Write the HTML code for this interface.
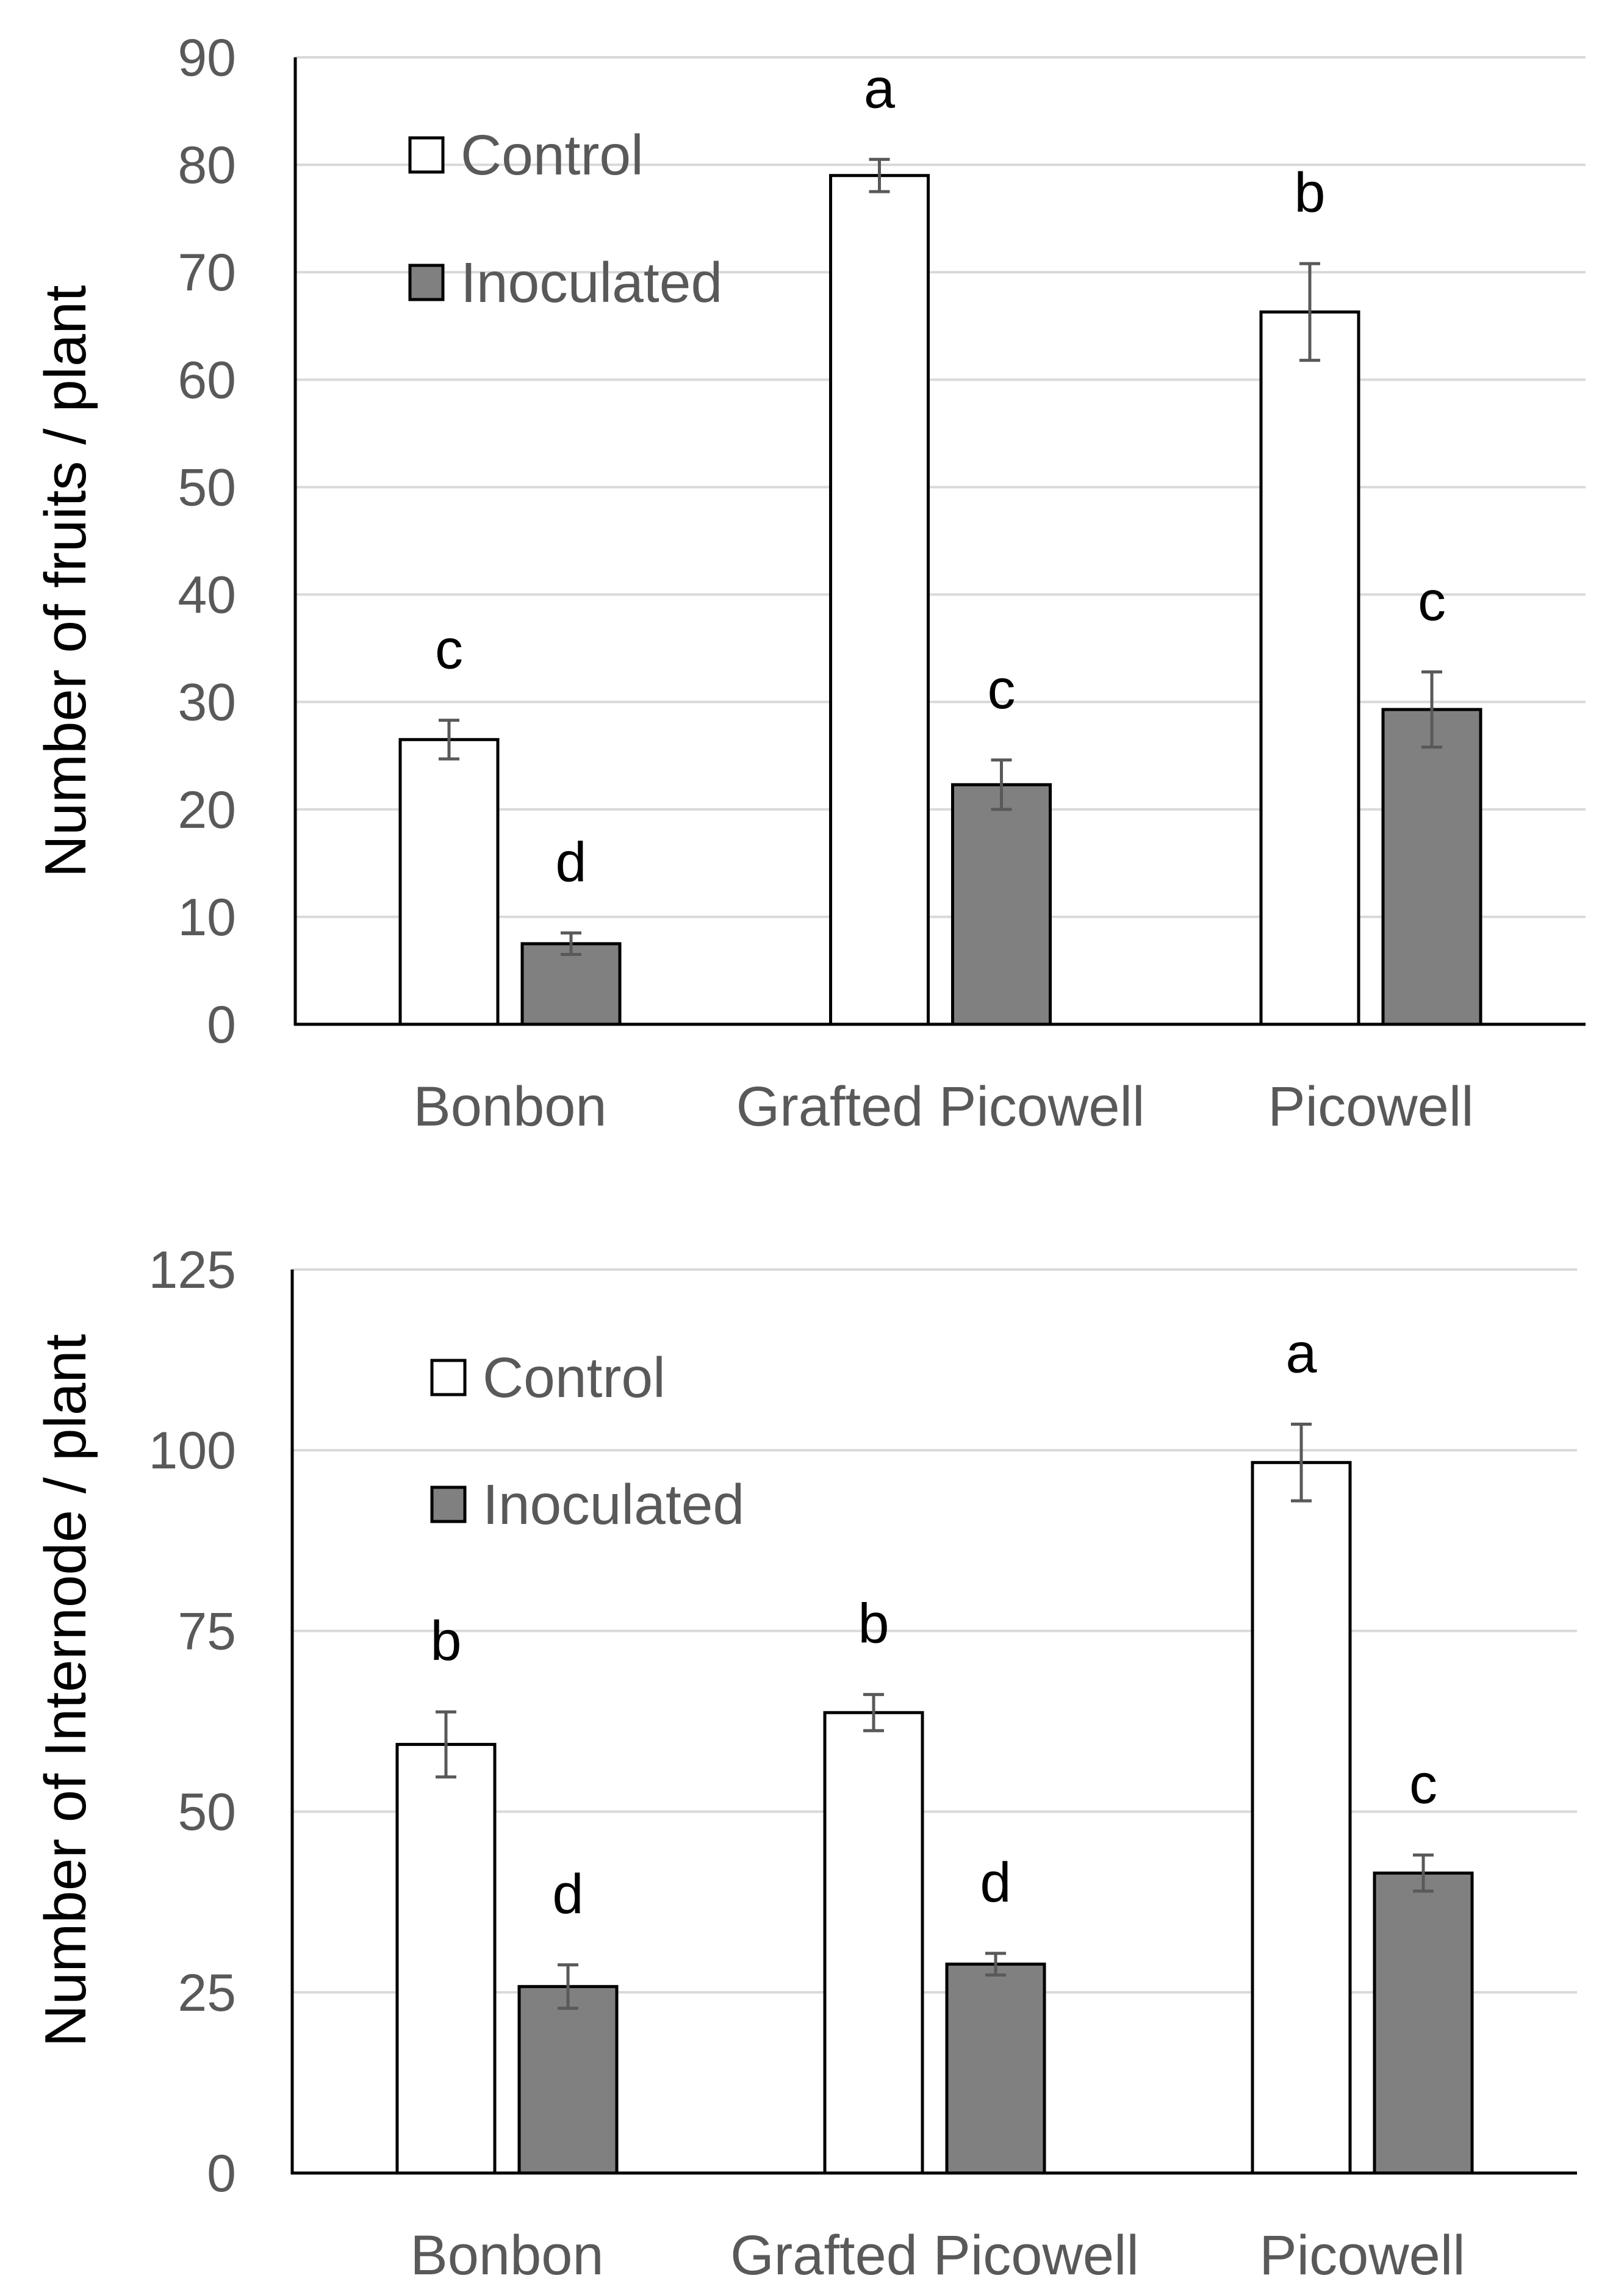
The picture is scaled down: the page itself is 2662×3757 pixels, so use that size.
<!DOCTYPE html>
<html><head><meta charset="utf-8"><style>
html,body{margin:0;padding:0;background:#fff}
svg{display:block}
text{font-family:"Liberation Sans",sans-serif}
</style></head><body>
<svg id="fig" width="2662" height="3757" viewBox="0 0 2662 3757" xmlns="http://www.w3.org/2000/svg"></svg>
<script>
const categories = ["Bonbon", "Grafted Picowell", "Picowell"];
const fruitsControl = [26.5, 79, 66.3];
const fruitsControlErr = [1.8, 1.5, 4.5];
const fruitsInoc = [7.5, 22.3, 29.3];
const fruitsInocErr = [1.0, 2.3, 3.5];
const fruitsLettersControl = ["c", "a", "b"];
const fruitsLettersInoc = ["d", "c", "c"];
const fruitsTicks = [0, 10, 20, 30, 40, 50, 60, 70, 80, 90];
const interControl = [59.3, 63.7, 98.3];
const interControlErr = [4.5, 2.5, 5.3];
const interInoc = [25.8, 28.9, 41.5];
const interInocErr = [3.0, 1.5, 2.5];
const interLettersControl = ["b", "b", "a"];
const interLettersInoc = ["d", "d", "c"];
const interTicks = [0, 25, 50, 75, 100, 125];

const NS = "http://www.w3.org/2000/svg";
const svg = document.getElementById("fig");
function mk(tag, attrs, parent, txt) {
  const e = document.createElementNS(NS, tag);
  for (const k in attrs) e.setAttribute(k, attrs[k]);
  if (txt !== undefined) e.textContent = txt;
  (parent || svg).appendChild(e);
  return e;
}

function chart(cfg) {
  const g = mk("g", {});
  
  
  const ymax = cfg.ticks[cfg.ticks.length - 1];
  const y = v => cfg.y0 - (v / ymax) * (cfg.y0 - cfg.yTop);
  const xc = i => cfg.first + i * cfg.step;
  const bw = 160, gap = 40;
  cfg.ticks.forEach(t => {
    if (t > 0) {
      const gl = mk("line", {x1: cfg.axisX, x2: cfg.right, y1: y(t), y2: y(t), stroke: "#d9d9d9", "stroke-width": 4}, g);
      
      
    }
    const tl = mk("text", {x: cfg.tickX, y: y(t) + 30, "text-anchor": "end", "font-size": 86, fill: "#595959"}, g, t);
    
    
  });
  function bars(vals, errs, letters, fill, offset, series) {
    vals.forEach((v, i) => {
      const x = xc(i) + offset;
      const r = mk("rect", {x: x, y: y(v), width: bw, height: cfg.y0 - y(v), fill: fill, stroke: "#000", "stroke-width": 5}, g);
      
      
      const cx = x + bw / 2, yt = y(v + errs[i]), yb = y(v - errs[i]);
      const eg = mk("g", {stroke: "#595959", "stroke-width": 5}, g);
      
      
      mk("line", {x1: cx, x2: cx, y1: yt, y2: yb}, eg);
      mk("line", {x1: cx - 17, x2: cx + 17, y1: yt, y2: yt}, eg);
      mk("line", {x1: cx - 17, x2: cx + 17, y1: yb, y2: yb}, eg);
      const lt = mk("text", {x: cx, y: yt - 85, "text-anchor": "middle", "font-size": 92, fill: "#000"}, g, letters[i]);
      
      
    });
  }
  bars(cfg.ctrl, cfg.ctrlErr, cfg.lc, "#fff", -bw - gap / 2, "control");
  bars(cfg.inoc, cfg.inocErr, cfg.li, "#808080", gap / 2, "inoculated");
  const ya = mk("line", {x1: cfg.axisX, x2: cfg.axisX, y1: cfg.yTop, y2: cfg.y0 + 2, stroke: "#000", "stroke-width": 5}, g);
  
  
  const xa = mk("line", {x1: cfg.axisX - 2, x2: cfg.right, y1: cfg.y0, y2: cfg.y0, stroke: "#000", "stroke-width": 5}, g);
  
  
  categories.forEach((c, i) => {
    const t = mk("text", {x: xc(i), y: cfg.catY, "text-anchor": "middle", "font-size": 92, fill: "#595959"}, g, c);
    
    
  });
  const yt = mk("text", {x: 0, y: 0, "text-anchor": "middle", "font-size": 96, fill: "#000", transform: "translate(" + (cfg.titleX) + "," + cfg.titleY + ") rotate(-90)"}, g, cfg.title);
  
  
  [["Control", "#fff", cfg.legY[0]], ["Inoculated", "#808080", cfg.legY[1]]].forEach(([lab, f, ly]) => {
    const lg = mk("g", {}, g);
    
    
    mk("rect", {x: cfg.legX, y: ly - 28, width: 54, height: 56, fill: f, stroke: "#000", "stroke-width": 5}, lg);
    mk("text", {x: cfg.legX + 83, y: ly + 32, "font-size": 93, fill: "#595959"}, lg, lab);
  });
}

chart({name: "fruits-chart", axisX: 484, right: 2599, yTop: 94, y0: 1679, ticks: fruitsTicks, tickX: 387,
  first: 836, step: 705.5,
  ctrl: fruitsControl, ctrlErr: fruitsControlErr, inoc: fruitsInoc, inocErr: fruitsInocErr,
  lc: fruitsLettersControl, li: fruitsLettersInoc, catY: 1845, title: "Number of fruits / plant",
  titleX: 140, titleY: 953, legX: 672, legY: [254, 463]});
chart({name: "internode-chart", axisX: 479, right: 2585, yTop: 2081, y0: 3562, ticks: interTicks, tickX: 387,
  first: 831, step: 701,
  ctrl: interControl, ctrlErr: interControlErr, inoc: interInoc, inocErr: interInocErr,
  lc: interLettersControl, li: interLettersInoc, catY: 3728, title: "Number of Internode / plant",
  titleX: 140, titleY: 2771, legX: 708, legY: [2258, 2466]});
</script>
</body></html>
